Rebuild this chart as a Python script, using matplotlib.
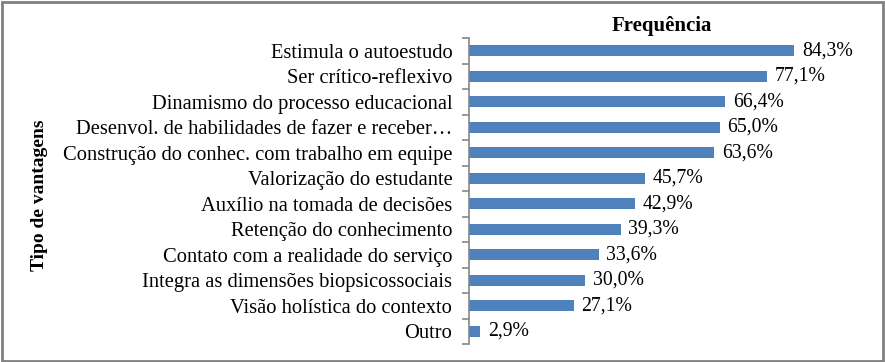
import matplotlib
matplotlib.use("Agg")
import matplotlib.pyplot as plt
from matplotlib.patches import Rectangle

categories = [
    "Estimula o autoestudo",
    "Ser crítico-reflexivo",
    "Dinamismo do processo educacional",
    "Desenvol. de habilidades de fazer e receber…",
    "Construção do conhec. com trabalho em equipe",
    "Valorização do estudante",
    "Auxílio na tomada de decisões",
    "Retenção do conhecimento",
    "Contato com a realidade do serviço",
    "Integra as dimensões biopsicossociais",
    "Visão holística do contexto",
    "Outro",
]
values = [84.3, 77.1, 66.4, 65.0, 63.6, 45.7, 42.9, 39.3, 33.6, 30.0, 27.1, 2.9]
value_labels = ["84,3%", "77,1%", "66,4%", "65,0%", "63,6%", "45,7%",
                "42,9%", "39,3%", "33,6%", "30,0%", "27,1%", "2,9%"]

plt.rcParams['font.family'] = ['Liberation Serif', 'DejaVu Serif']

W, H = 885, 362
fig = plt.figure(figsize=(W/100, H/100), dpi=100)
ax = fig.add_axes([469/W, 1-344/H, (855-469)/W, (344-38)/H])

n = len(categories)
ypos = list(range(n))
ax.barh(ypos, values, height=0.44, color="#4F81BD", zorder=2)
ax.set_ylim(n-0.5, -0.5)
ax.set_xlim(0, 100)

for y, v, lab in zip(ypos, values, value_labels):
    ax.text(v + 2.0, y, lab, va="center", ha="left", fontsize=14.2)

ax.set_yticks(ypos)
ax.set_yticklabels(categories, fontsize=14.8)
ax.set_yticks([i - 0.5 for i in range(n+1)], minor=True)
ax.tick_params(axis="y", which="major", length=0, pad=12)
ax.tick_params(axis="y", which="minor", length=5, color="#868686", width=1.2)
ax.set_xticks([])
for s in ["top", "right", "bottom"]:
    ax.spines[s].set_visible(False)
ax.spines["left"].set_color("#868686")
ax.spines["left"].set_linewidth(1.2)

ax.set_title("Frequência", fontsize=15, fontweight="bold", pad=5)
fig.text(40/W, 1-195/H, "Tipo de vantagens", rotation=90, fontsize=14,
         fontweight="bold", ha="center", va="center")

fig.patches.append(Rectangle((1.5/W, 1.5/H), 1-3.5/W, 1-3.5/H,
                             transform=fig.transFigure, fill=False,
                             edgecolor="#808080", linewidth=2))

fig.savefig("out.png", dpi=100)
